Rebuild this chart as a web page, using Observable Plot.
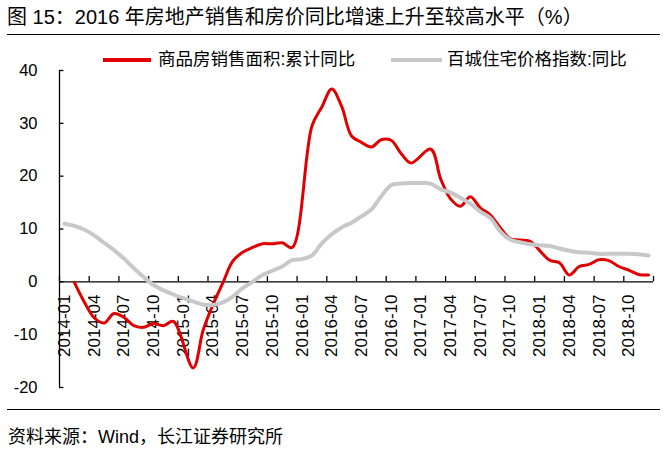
<!DOCTYPE html>
<html>
<head>
<meta charset="utf-8">
<script src="https://cdn.jsdelivr.net/npm/d3@7"></script>
<script src="https://cdn.jsdelivr.net/npm/@observablehq/plot@0.6"></script>
<style>
  body { margin: 0; background: #fff; }
  #wrap { position: relative; width: 668px; height: 452px; overflow: hidden;
          font-family: "Liberation Sans", "Noto Sans CJK SC", sans-serif; color: #000; }
  #title { position: absolute; left: 7px; top: 5px; font-size: 20px; line-height: 24px; white-space: nowrap; }
  .rule { position: absolute; left: 7px; width: 653px; height: 0; border-top: 1.5px solid #000; }
  #chart { position: absolute; left: 0; top: 40px; }
  .lg-line { position: absolute; height: 3.5px; }
  .lg-text { position: absolute; font-size: 17.5px; line-height: 20px; white-space: nowrap; }
  #source { position: absolute; left: 8px; top: 426px; font-size: 18px; line-height: 22px; white-space: nowrap; }
</style>
</head>
<body>
<div id="wrap">
  <div id="title">图 15：2016 年房地产销售和房价同比增速上升至较高水平（%）</div>
  <div class="rule" style="top:34px"></div>
  <div id="chart"></div>
  <div class="lg-line" style="left:103px;top:58px;width:48px;background:#e00000"></div>
  <div class="lg-text" style="left:158px;top:49px">商品房销售面积:累计同比</div>
  <div class="lg-line" style="left:391px;top:58px;width:51px;background:#c8c8c8"></div>
  <div class="lg-text" style="left:447px;top:49px">百城住宅价格指数:同比</div>
  <div class="rule" style="top:409px"></div>
  <div id="source">资料来源：Wind，长江证券研究所</div>
</div>
<script>
// Series names
const seriesSales = "商品房销售面积:累计同比";
const seriesPrice = "百城住宅价格指数:同比";

// X tick labels (every third month, 2014-01 .. 2018-10)
const tickLabels = ["2014-01","2014-04","2014-07","2014-10",
  "2015-01","2015-04","2015-07","2015-10",
  "2016-01","2016-04","2016-07","2016-10",
  "2017-01","2017-04","2017-07","2017-10",
  "2018-01","2018-04","2018-07","2018-10"];

// Y ticks
const yTicks = [-20, -10, 0, 10, 20, 30, 40];

// Monthly values 2014-01 .. 2018-12 (January has no cumulative figure)
const salesYoY = [
  null, -0.1, -3.8, -6.8, -7.8, -6.0, -6.7, -8.3, -8.6, -7.9, -8.3, -7.5,
  null, -16.3, -9.2, -4.3, -0.2, 3.9, 5.6, 6.5, 7.2, 7.2, 7.4, 6.5,
  null, 29.5, 33.1, 36.5, 33.2, 27.6, 26.4, 25.5, 26.9, 26.8, 24.3, 22.5,
  null, 25.1, 19.5, 15.7, 14.3, 16.1, 14.0, 12.7, 10.3, 8.2, 7.9, 7.7,
  null, 4.1, 3.6, 1.3, 2.9, 3.3, 4.2, 4.0, 2.9, 2.2, 1.4, 1.3
];
const priceYoY = [
  11.0, 10.6, 9.9, 8.8, 7.4, 6.0, 4.4, 2.6, 0.9, -0.6, -1.6, -2.4,
  -3.1, -3.7, -4.3, -4.4, -3.9, -2.8, -1.2, 0.0, 1.3, 2.1, 2.9, 4.1,
  4.3, 5.0, 7.3, 9.0, 10.3, 11.2, 12.4, 13.7, 16.2, 18.3, 18.6, 18.7,
  18.7, 18.6, 17.5, 16.9, 15.9, 14.8, 13.3, 12.1, 9.6, 8.0, 7.5, 7.1,
  6.9, 6.8, 6.3, 5.9, 5.6, 5.5, 5.3, 5.3, 5.3, 5.3, 5.2, 5.0
];

const sales = salesYoY.map((v, i) => ({x: i + 0.5, v, s: seriesSales})).filter(d => d.v != null);
const price = priceYoY.map((v, i) => ({x: i + 0.5, v, s: seriesPrice}));
const nMonths = priceYoY.length;
const tickPos = d3.range(0, nMonths + 1, 3);

const chart = Plot.plot({
  width: 668,
  height: 360,
  marginLeft: 59,
  marginRight: 15,
  marginTop: 30,
  marginBottom: 13,
  x: {domain: [0, nMonths], axis: null},
  y: {domain: [-20, 40], label: null},
  style: {fontFamily: '"Liberation Sans", "Noto Sans CJK SC", sans-serif', fontSize: "16.5px", color: "#000", background: "transparent", overflow: "visible"},
  marks: [
    Plot.axisY({ticks: yTicks, tickSize: 0, tickPadding: 22, fontSize: 16.5, label: null, tickFormat: d => String(d)}),
    Plot.ruleX([0], {y1: -20, y2: 40, stroke: "#000", strokeWidth: 1.3}),
    Plot.ruleY(yTicks, {x1: 0, x2: 0.45, stroke: "#000", strokeWidth: 1.3}),
    Plot.ruleY([0], {x1: 0, x2: nMonths, stroke: "#000", strokeWidth: 1.3}),
    Plot.ruleX(tickPos, {y1: 0, y2: 1.0, stroke: "#000", strokeWidth: 1.3}),
    Plot.text(tickLabels, {x: (d, i) => i * 3 + 0.5, y: -2.4, text: d => d, rotate: -90,
      textAnchor: "end", lineAnchor: "middle", fontSize: 17}),
    Plot.line(sales, {x: "x", y: "v", stroke: "#e00000", strokeWidth: 3, curve: "catmull-rom"}),
    Plot.line(price, {x: "x", y: "v", stroke: "#c8c8c8", strokeWidth: 4, curve: "catmull-rom"})
  ]
});
document.getElementById("chart").appendChild(chart);
</script>
</body>
</html>
